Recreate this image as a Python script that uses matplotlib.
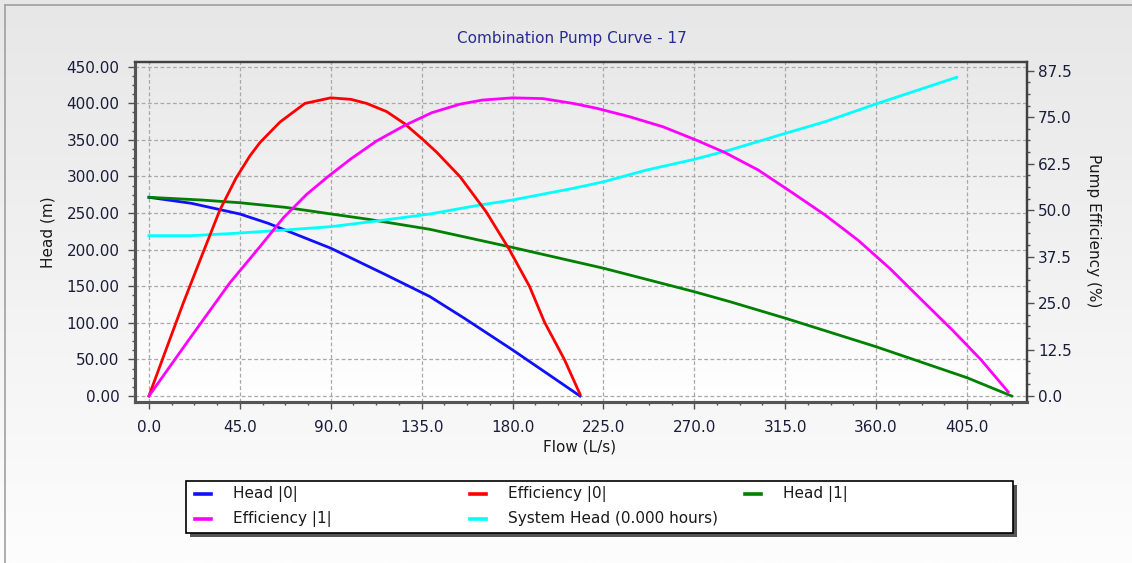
import numpy as np
import matplotlib
matplotlib.use("Agg")
import matplotlib.pyplot as plt
from matplotlib.lines import Line2D
from matplotlib.patches import Rectangle
from matplotlib.ticker import MultipleLocator, FormatStrFormatter

# ---------------- data ----------------
title = "Combination Pump Curve - 17"
x_label = "Flow (L/s)"
y_label = "Head (m)"
y2_label = "Pump Efficiency (%)"

head0_q = [0, 21, 45, 59, 90, 117, 139, 156, 180, 197, 213.4]
head0_h = [271.5, 263.3, 248.7, 236, 202, 166, 136, 106.5, 63, 31, 0]

eff0_q = [0, 8, 17, 26, 35.1, 43.1, 50, 55, 64.9, 77.2, 90, 100, 107.8, 117.7,
          126.7, 135.8, 142.4, 154, 167, 178.2, 188.4, 195.8, 205.7, 213.4]
eff0_e = [0, 11.8, 25, 37.5, 50.0, 58.6, 64.6, 68.2, 73.7, 78.7, 80.2, 79.8, 78.7, 76.5,
          73.2, 68.9, 65.6, 59.0, 49.5, 39.6, 29.5, 19.9, 9.8, 0.5]

head1_q = [0, 26.1, 45, 67.3, 90, 108.6, 139, 180, 225.2, 270, 287.6, 315.2, 359.9, 405, 427.1]
head1_h = [271.5, 267.8, 264.1, 257.9, 248.8, 241.5, 227.8, 203, 174.5, 142.5, 128.9, 106.2, 67.4, 25, 0]

eff1_q = [0, 20, 40, 55, 66.5, 78, 88.6, 100, 112.7, 126.7, 140, 154, 165, 180, 195, 210,
          221.6, 238.1, 254.6, 271.1, 285.1, 301.6, 318.2, 334.7, 351.1, 367, 383, 398, 412, 425.4]
eff1_e = [0, 15.3, 30.4, 40.2, 47.9, 54.2, 59.0, 63.8, 68.6, 72.8, 76.2, 78.5, 79.6, 80.2, 80.0, 78.7,
          77.4, 75.1, 72.4, 68.8, 65.5, 60.8, 54.8, 48.7, 41.9, 34.2, 25.6, 17.6, 9.7, 1.1]

sys_q = [0, 21, 42.6, 67.3, 90.1, 116.8, 139.1, 163.9, 180, 210.1, 225.2, 246.4, 270,
         287.6, 315.2, 334.7, 359.9, 380.9, 399.9]
sys_h = [219.1, 219.1, 222.3, 226.8, 231.4, 240.5, 248.7, 261, 267.8, 283.8, 292.8, 308.8, 323.4,
         336.2, 359, 374.8, 399, 418.2, 435.5]

labels = ["Head |0|", "Efficiency |0|", "Head |1|", "Efficiency |1|", "System Head (0.000 hours)"]
colors = ["#1010ff", "#ff0000", "#008000", "#ff00ff", "#00ffff"]

# ---------------- figure ----------------
W, H = 1132, 563
plt.rcParams["font.family"] = ["DejaVu Sans"]
fig = plt.figure(figsize=(W / 100, H / 100), dpi=100)

def fx(px):
    return px / W

def fy(py):
    return 1 - py / H

# figure background gradient (gray at top -> white at bottom)
grad = np.linspace(0, 1, 256).reshape(-1, 1)
bg = fig.add_axes([0, 0, 1, 1], zorder=-10)
cmap_bg = matplotlib.colors.LinearSegmentedColormap.from_list("bg", ["#e7e7e7", "#fdfdfd"])
bg.imshow(grad, aspect="auto", cmap=cmap_bg, extent=[0, 1, 0, 1], origin="upper")
bg.set_xlim(0, 1)
bg.set_ylim(0, 1)
bg.axis("off")
fig.add_artist(Line2D([fx(5), fx(5)], [fy(5), 0], color="#a0a0a0", lw=1.2, transform=fig.transFigure))
fig.add_artist(Line2D([fx(5), 1], [fy(5), fy(5)], color="#a0a0a0", lw=1.2, transform=fig.transFigure))

# main axes
ax = fig.add_axes([fx(135), fy(402), fx(1027) - fx(135), fy(62) - fy(402)])
ax.set_facecolor("none")
cmap_ax = matplotlib.colors.LinearSegmentedColormap.from_list("axbg", ["#e9e9e9", "#ffffff"])
ax.imshow(grad, aspect="auto", cmap=cmap_ax, extent=[0, 1, 0, 1], origin="upper",
          transform=ax.transAxes, zorder=0)

ax2 = ax.twinx()

ax.plot(head0_q, head0_h, color=colors[0], lw=2.0, zorder=3)
ax.plot(head1_q, head1_h, color=colors[2], lw=2.0, zorder=3)
ax.plot(sys_q, sys_h, color=colors[4], lw=2.0, zorder=3)
ax2.plot(eff0_q, eff0_e, color=colors[1], lw=2.0, zorder=3)
ax2.plot(eff1_q, eff1_e, color=colors[3], lw=2.0, zorder=3)

ax.set_xlim(-6.9, 434.7)
ax.set_ylim(-8.2, 456.4)
ax2.set_ylim(-8.2 * 87.5 / 444.5, 456.4 * 87.5 / 444.5)

ax.xaxis.set_major_locator(MultipleLocator(45))
ax.xaxis.set_minor_locator(MultipleLocator(11.25))
ax.xaxis.set_major_formatter(FormatStrFormatter("%.1f"))
ax.yaxis.set_major_locator(MultipleLocator(50))
ax.yaxis.set_minor_locator(MultipleLocator(12.5))
ax.yaxis.set_major_formatter(FormatStrFormatter("%.2f"))
ax2.yaxis.set_major_locator(MultipleLocator(12.5))
ax2.yaxis.set_minor_locator(MultipleLocator(3.125))
ax2.yaxis.set_major_formatter(FormatStrFormatter("%.1f"))

ax.grid(True, which="major", color="#a8a8a8", linestyle=(0, (3, 2)), lw=0.9, zorder=1)
ax.set_axisbelow(True)

tick_col = "#1c1c3a"
for a in (ax, ax2):
    a.tick_params(which="major", direction="out", length=5, width=1, color="#505050",
                  labelsize=11, labelcolor=tick_col)
    a.tick_params(which="minor", direction="out", length=2.5, width=1, color="#505050")
ax.tick_params(axis="x", pad=8)
ax.tick_params(axis="y", pad=6)
ax2.tick_params(axis="y", pad=3)

for a in (ax, ax2):
    for s in a.spines.values():
        s.set_color("#404040")
        s.set_linewidth(1.6)
    a.spines["left"].set_linewidth(2.2)
    a.spines["bottom"].set_linewidth(2.2)
    a.spines["left"].set_color("#555555")
    a.spines["bottom"].set_color("#555555")

# texts
fig.text(fx(572), fy(39), title, ha="center", va="center", fontsize=11, color="#2a2a96")
fig.text(fx(580), fy(447), x_label, ha="center", va="center", fontsize=11, color="#1a1a1a")
fig.text(fx(48), fy(232), y_label, ha="center", va="center", rotation=90, fontsize=11, color="#1a1a1a")
fig.text(fx(1094), fy(231), y2_label, ha="center", va="center", rotation=270, fontsize=11, color="#1a1a1a")

# legend box (manual)
fig.add_artist(Rectangle((fx(190), fy(537)), fx(1017) - fx(190), fy(485) - fy(537),
                         transform=fig.transFigure, facecolor="#555555", edgecolor="none"))
fig.add_artist(Rectangle((fx(186), fy(533)), fx(1013) - fx(186), fy(481) - fy(533),
                         transform=fig.transFigure, facecolor="white", edgecolor="#000000", lw=1.2))
handle_x = [195, 470, 745]
text_x = [233, 508, 783]
row_y = [494, 519]
for i, (lab, col) in enumerate(zip(labels, colors)):
    r, c = divmod(i, 3)
    y = fy(row_y[r])
    fig.add_artist(Line2D([fx(handle_x[c]), fx(handle_x[c] + 16)], [y, y], color=col, lw=2.6,
                          transform=fig.transFigure))
    fig.text(fx(text_x[c]), y, lab, ha="left", va="center", fontsize=11, color="#1a1a1a")

fig.savefig("out.png", dpi=100)
